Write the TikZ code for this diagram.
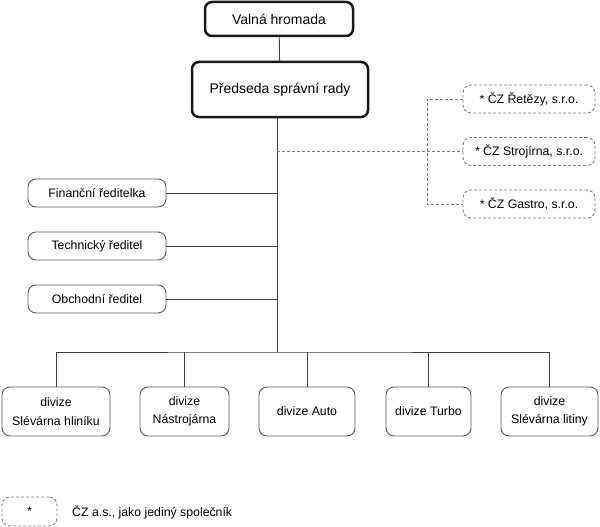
\documentclass[tikz,border=0pt]{standalone}
\usepackage{fontspec}
\setmainfont{Liberation Sans}
\begin{document}
\begin{tikzpicture}[x=1pt,y=-1pt]

    \tikzset{
      topbox/.style={
        draw=black!90,
        line width=2.5pt,
        rounded corners=7pt,
        inner sep=0pt,
        align=center,
        font=\fontsize{14}{17}\selectfont,
      },
      unitbox/.style={
        draw=black!65,
        line width=0.9pt,
        rounded corners=8pt,
        inner sep=0pt,
        minimum height=28pt,
        align=center,
        font=\fontsize{12.3}{18.5}\selectfont,
      },
      subbox/.style={
        unitbox,
        draw=black!50,
        dash pattern=on 3pt off 2pt,
      },
      link/.style={draw=black!75,line width=0.9pt},
      sublink/.style={draw=black!50,line width=0.9pt,dash pattern=on 3pt off 2pt},
    }
    \useasboundingbox (0,0) rectangle (600,527);
	\node[topbox,minimum width=148pt,minimum height=34pt] (valna) at (279,19) {Valná hromada};
	\node[topbox,minimum width=176pt,minimum height=55pt] (predseda) at (280,89.5) {Předseda správní rady};
	\node[subbox,minimum width=132pt] (retezy) at (529,99) {* ČZ Řetězy, s.r.o.};
	\node[subbox,minimum width=132pt] (strojirna) at (529,151.5) {* ČZ Strojírna, s.r.o.};
	\node[subbox,minimum width=132pt] (gastro) at (529,204) {* ČZ Gastro, s.r.o.};
	\node[unitbox,minimum width=138pt] (financni) at (97,193) {Finanční ředitelka};
	\node[unitbox,minimum width=138pt] (technicky) at (97,246) {Technický ředitel};
	\node[unitbox,minimum width=138pt] (obchodni) at (97,299) {Obchodní ředitel};
	\node[unitbox,minimum width=108pt,minimum height=49pt] (hlinik) at (56,411.5) {divize\\Slévárna hliníku};
	\node[unitbox,minimum width=89pt,minimum height=49pt] (nastrojarna) at (184.5,411.5) {divize\\Nástrojárna};
	\node[unitbox,minimum width=96pt,minimum height=49pt] (auto) at (307,411.5) {divize Auto};
	\node[unitbox,minimum width=85pt,minimum height=49pt] (turbo) at (428.5,411.5) {divize Turbo};
	\node[unitbox,minimum width=97pt,minimum height=49pt] (litina) at (549.5,411.5) {divize\\Slévárna litiny};
	\node[subbox,minimum width=55pt,minimum height=29pt] (legenda) at (29.5,511.5) {*};
	\node[anchor=west,inner sep=0pt,font=\fontsize{12.3}{14}\selectfont] (popis) at (72,512) {ČZ a.s., jako jediný společník};
	\coordinate (bar) at (277,352);
	\coordinate (split) at (427,152);
	\draw[link] (valna) -- (predseda);
	\draw[link] (predseda.south -| bar) -- (bar);
	\draw[link] (financni.east) -- (financni.east -| bar);
	\draw[link] (technicky.east) -- (technicky.east -| bar);
	\draw[link] (obchodni.east) -- (obchodni.east -| bar);
	\draw[link] (hlinik.north) |- (bar) -| (litina.north);
	\draw[link] (nastrojarna.north) -- (nastrojarna.north |- bar);
	\draw[link] (auto.north) -- (auto.north |- bar);
	\draw[link] (turbo.north) -- (turbo.north |- bar);
	\draw[sublink] (strojirna.west -| bar) -- (strojirna.west);
	\draw[sublink] (retezy.west) -| (split) |- (gastro.west);

\end{tikzpicture}
\end{document}
